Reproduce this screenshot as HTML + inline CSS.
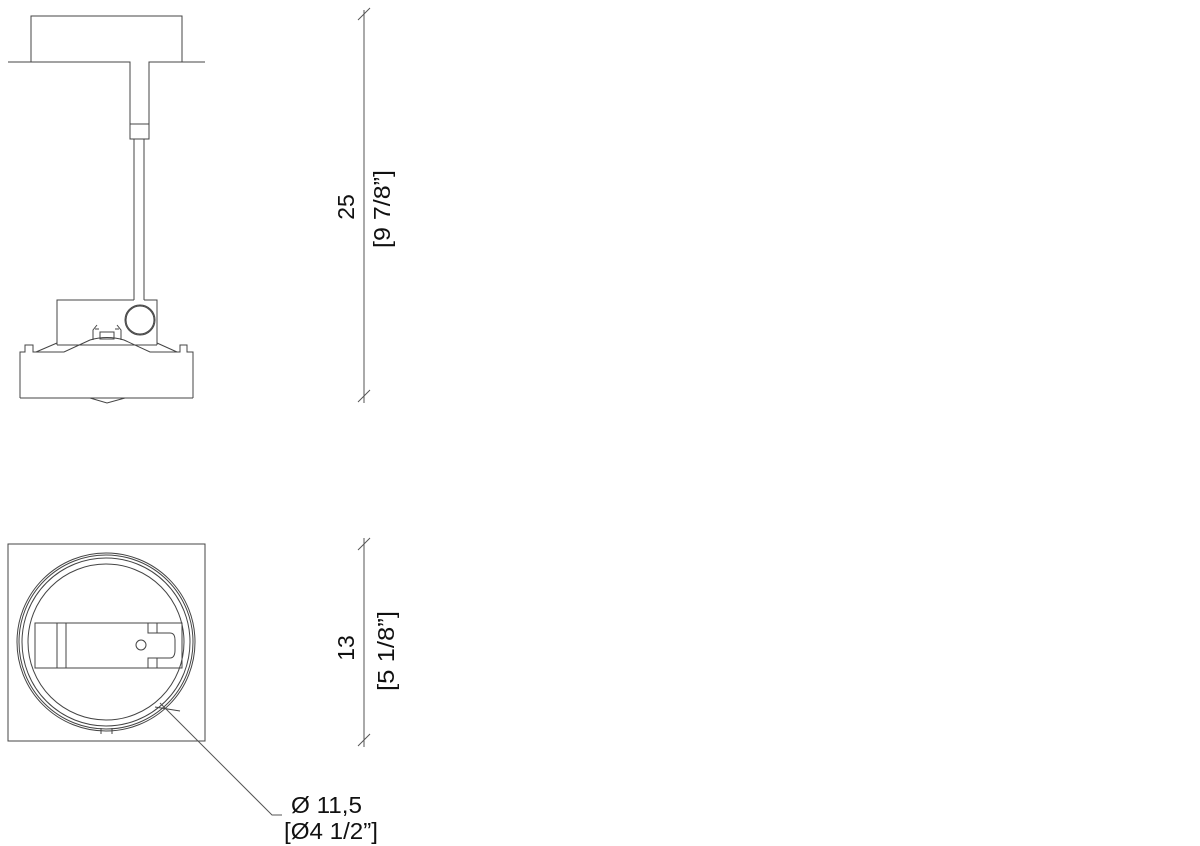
<!DOCTYPE html>
<html><head><style>html,body{margin:0;padding:0;background:#fff;}svg{display:block}</style></head>
<body>
<svg width="1200" height="846" viewBox="0 0 1200 846" xmlns="http://www.w3.org/2000/svg" font-family="Liberation Sans, sans-serif">
<g fill="none" stroke="#444" stroke-width="1">
<polyline points="8,62 31,62 31,16 182,16 182,62 205,62"/>
<polyline points="31,62 130,62 130,124 149,124 149,62 182,62"/>
<rect x="130" y="124" width="19" height="15"/>
<line x1="134" y1="139" x2="134" y2="300"/>
<line x1="144" y1="139" x2="144" y2="300"/>
<polyline points="134,300 57,300 57,345"/>
<polyline points="144,300 157,300 157,345"/>
<circle cx="140" cy="320" r="15"/>
<circle cx="140" cy="320" r="14"/>
<rect x="100" y="332" width="14" height="7"/>
<path d="M93,340 V330 L97,325 M121,340 V330 L117,325 M95,329 h4 M119,329 h-4"/>
<polyline points="20,398 20,352 25,352 25,345 33,345 33,352 38,352"/>
<polyline points="193,398 193,352 187,352 187,345 180,345 180,352 175,352"/>
<line x1="20" y1="398" x2="193" y2="398"/>
<path d="M36,352 L57,343 M177,352 L157,343 M38,352 H64 L90,340 Q107,335 124,340 L150,352 H175"/>
<path d="M57,345 H157"/>
<path d="M90,398 L107,403 L125,398"/>
<rect x="8" y="544" width="197" height="197"/>
<circle cx="106" cy="642" r="89"/>
<circle cx="106" cy="642" r="87"/>
<circle cx="106" cy="642" r="84"/>
<circle cx="106" cy="642" r="78"/>
<rect x="35" y="623" width="147" height="45"/>
<line x1="57" y1="623" x2="57" y2="668"/>
<line x1="66" y1="623" x2="66" y2="668"/>
<path d="M148,623 V633 H170 Q175,633 175,640 V650 Q175,658 170,658 H148 V668 M157,623 V633 M157,658 V668"/>
<circle cx="141" cy="645" r="5"/>
<path d="M101,728 V734 M112,728 V734"/>
<polyline points="160,703 272,815 282,815" stroke="#555"/>
<line x1="155" y1="707" x2="180" y2="711"/>
<g stroke="#555">
<line x1="364" y1="10" x2="364" y2="403"/>
<line x1="358" y1="20" x2="370" y2="8"/>
<line x1="358" y1="402" x2="370" y2="390"/>
<line x1="364" y1="538" x2="364" y2="747"/>
<line x1="358" y1="550" x2="370" y2="538"/>
<line x1="358" y1="746" x2="370" y2="734"/>
</g>
</g>
<g fill="#111" font-size="23">
<text transform="translate(354,207) rotate(-90)" text-anchor="middle">25</text>
<text transform="translate(390,209) rotate(-90)" text-anchor="middle" textLength="78" lengthAdjust="spacingAndGlyphs">[9 7/8”]</text>
<text transform="translate(354,648) rotate(-90)" text-anchor="middle">13</text>
<text transform="translate(394,651) rotate(-90)" text-anchor="middle" textLength="80" lengthAdjust="spacingAndGlyphs">[5 1/8”]</text>
<text x="291" y="813" textLength="71" lengthAdjust="spacingAndGlyphs">Ø 11,5</text>
<text x="284" y="839" textLength="94" lengthAdjust="spacingAndGlyphs">[Ø4 1/2”]</text>
</g>
</svg>
</body></html>
